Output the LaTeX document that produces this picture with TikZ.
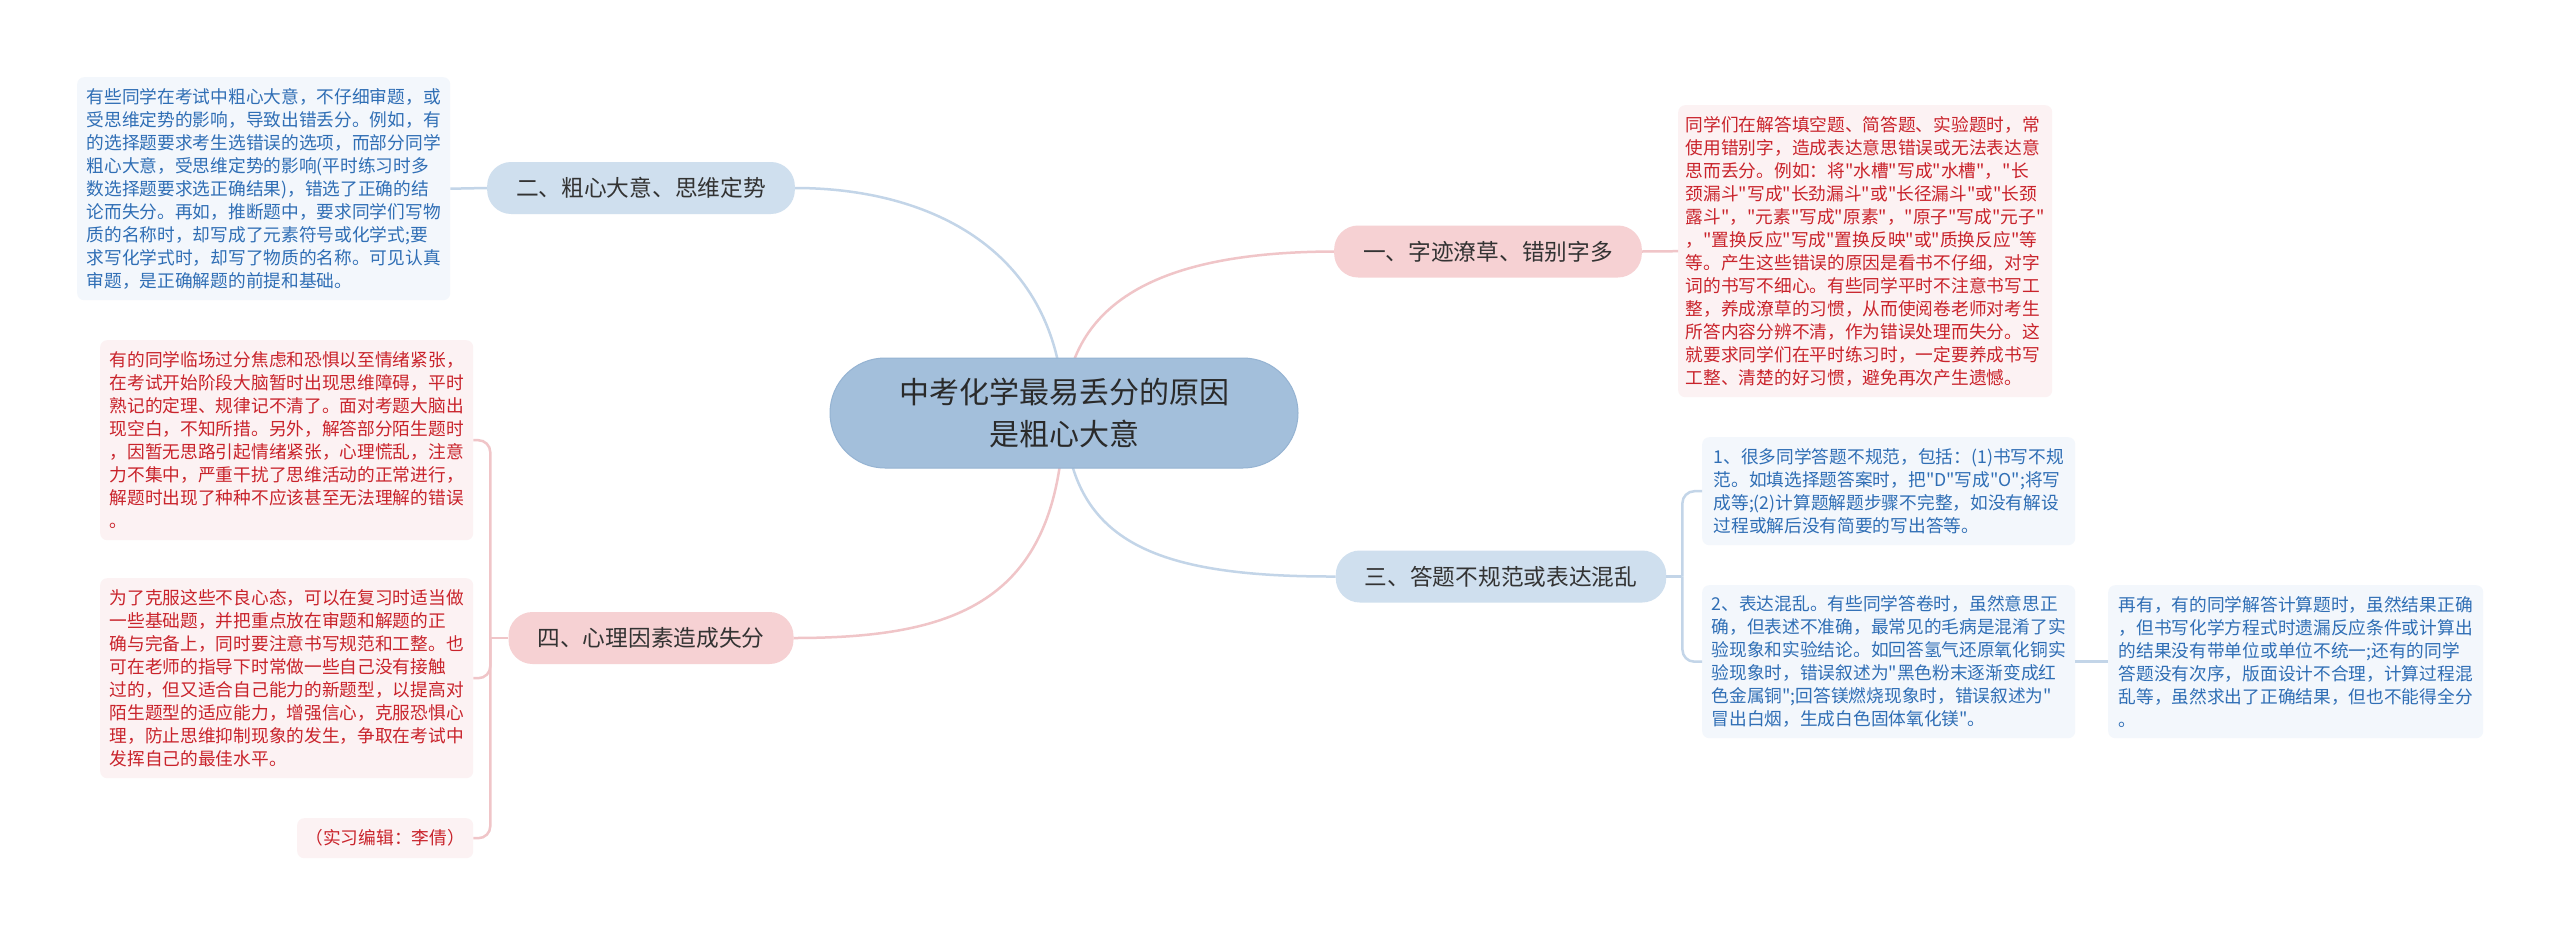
\documentclass[tikz,border=0pt]{standalone}
\usepackage{fontspec}
\newfontfamily\cjk{Noto Sans CJK SC}
\definecolor{mainfill}{RGB}{163,191,219}
\definecolor{maindraw}{RGB}{149,179,210}
\definecolor{bluefill}{RGB}{207,223,238}
\definecolor{redfill}{RGB}{246,209,211}
\definecolor{blueleaf}{RGB}{243,247,252}
\definecolor{redleaf}{RGB}{252,242,243}
\definecolor{blueline}{RGB}{195,213,232}
\definecolor{redline}{RGB}{240,197,200}
\definecolor{bluetext}{RGB}{47,110,181}
\definecolor{redtext}{RGB}{201,35,43}
\definecolor{darktext}{RGB}{51,51,51}
\tikzset{
  topic/.style={rounded corners=24,inner xsep=29,minimum height=52,text=darktext,font={\cjk\fontsize{22.7}{28}\selectfont}},
  leaf/.style={rounded corners=7,anchor=north west,align=left,inner sep=0,font={\cjk\fontsize{17.7}{23}\selectfont}},
  bline/.style={draw=blueline,line width=2.5},
  rline/.style={draw=redline,line width=2.5}
}

\begin{document}
\begin{tikzpicture}[x=1pt,y=1pt,yscale=-1,xscale=1]
%set diagram area 2560 x 935
\fill[white] (0,0) rectangle (2560,935);
\useasboundingbox (0,0) rectangle (2560,935);
\coordinate (c) at (1064,413);

% Topic Nodes
\node (n1) at (1488,251.5) [topic,fill=redfill] {一、字迹潦草、错别字多};
\node (n2) at (641,188) [topic,fill=bluefill] {二、粗心大意、思维定势};
\node (n3) at (1501,576.5) [topic,fill=bluefill] {三、答题不规范或表达混乱};
\node (n4) at (651,638) [topic,fill=redfill] {四、心理因素造成失分};

% Text Node
\node (l1) at (1678,105) [leaf,fill=redleaf,text=redtext,minimum width=374,minimum height=292] {同学们在解答填空题、简答题、实验题时，常\\使用错别字，造成表达意思错误或无法表达意\\思而丢分。例如：将"水槽"写成"水槽"，"长\\颈漏斗"写成"长劲漏斗"或"长径漏斗"或"长颈\\露斗"，"元素"写成"原素"，"原子"写成"元子"\\，"置换反应"写成"置换反映"或"质换反应"等\\等。产生这些错误的原因是看书不仔细，对字\\词的书写不细心。有些同学平时不注意书写工\\整，养成潦草的习惯，从而使阅卷老师对考生\\所答内容分辨不清，作为错误处理而失分。这\\就要求同学们在平时练习时，一定要养成书写\\工整、清楚的好习惯，避免再次产生遗憾。};
% Text Node
\node (l2) at (77,77) [leaf,fill=blueleaf,text=bluetext,minimum width=373,minimum height=223] {有些同学在考试中粗心大意，不仔细审题，或\\受思维定势的影响，导致出错丢分。例如，有\\的选择题要求考生选错误的选项，而部分同学\\粗心大意，受思维定势的影响(平时练习时多\\数选择题要求选正确结果)，错选了正确的结\\论而失分。再如，推断题中，要求同学们写物\\质的名称时，却写成了元素符号或化学式;要\\求写化学式时，却写了物质的名称。可见认真\\审题，是正确解题的前提和基础。};
% Text Node
\node (l31) at (1702,437) [leaf,fill=blueleaf,text=bluetext,minimum width=373,minimum height=108] {1、很多同学答题不规范，包括：(1)书写不规\\范。如填选择题答案时，把"D"写成"O";将写\\成等;(2)计算题解题步骤不完整，如没有解设\\过程或解后没有简要的写出答等。};
% Text Node
\node (l32) at (1702,585) [leaf,fill=blueleaf,text=bluetext,minimum width=373,minimum height=153] {2、表达混乱。有些同学答卷时，虽然意思正\\确，但表述不准确，最常见的毛病是混淆了实\\验现象和实验结论。如回答氢气还原氧化铜实\\验现象时，错误叙述为"黑色粉末逐渐变成红\\色金属铜";回答镁燃烧现象时，错误叙述为"\\冒出白烟，生成白色固体氧化镁"。};
% Text Node
\node (l33) at (2108,585) [leaf,fill=blueleaf,text=bluetext,minimum width=375,minimum height=153] {再有，有的同学解答计算题时，虽然结果正确\\，但书写化学方程式时遗漏反应条件或计算出\\的结果没有带单位或单位不统一;还有的同学\\答题没有次序，版面设计不合理，计算过程混\\乱等，虽然求出了正确结果，但也不能得全分\\。};
% Text Node
\node (l41) at (100,340) [leaf,fill=redleaf,text=redtext,minimum width=373,minimum height=200] {有的同学临场过分焦虑和恐惧以至情绪紧张，\\在考试开始阶段大脑暂时出现思维障碍，平时\\熟记的定理、规律记不清了。面对考题大脑出\\现空白，不知所措。另外，解答部分陌生题时\\，因暂无思路引起情绪紧张，心理慌乱，注意\\力不集中，严重干扰了思维活动的正常进行，\\解题时出现了种种不应该甚至无法理解的错误\\。};
% Text Node
\node (l42) at (100,578) [leaf,fill=redleaf,text=redtext,minimum width=373,minimum height=200] {为了克服这些不良心态，可以在复习时适当做\\一些基础题，并把重点放在审题和解题的正\\确与完备上，同时要注意书写规范和工整。也\\可在老师的指导下时常做一些自己没有接触\\过的，但又适合自己能力的新题型，以提高对\\陌生题型的适应能力，增强信心，克服恐惧心\\理，防止思维抑制现象的发生，争取在考试中\\发挥自己的最佳水平。};
% Text Node
\node (l43) at (297,818) [leaf,fill=redleaf,text=redtext,minimum width=176,minimum height=40] {（实习编辑：李倩）};

%Curve Lines
\draw [bline] (c) .. controls (1060,250) and (930,188) .. (n2.east);
\draw [rline] (c) .. controls (1068,290) and (1180,252) .. (n1.west);
\draw [bline] (c) .. controls (1070,540) and (1150,577) .. (n3.west);
\draw [rline] (c) .. controls (1060,600) and (960,638) .. (n4.east);

%Straight Lines
\draw [bline] (l2.east) -- (n2.west);
\draw [rline] (n1.east) -- (l1.west);
\coordinate (b3) at ([xshift=16]n3.east);
\draw [bline] (n3.east) -- (b3);
\draw [bline,rounded corners=12] (b3) |- (l31.west);
\draw [bline,rounded corners=12] (b3) |- (l32.west);
\draw [bline] (l32.east) -- (l33.west);
\coordinate (b4) at ([xshift=-18]n4.west);
\draw [rline] (n4.west) -- (b4);
\draw [rline,rounded corners=12] (b4) |- (l41.east);
\draw [rline,rounded corners=12] (b4) |- (l42.east);
\draw [rline,rounded corners=12] (b4) |- (l43.east);

% Main Node
\node (m) at (c) [rounded corners=55,minimum width=468,minimum height=110,fill=mainfill,draw=maindraw,line width=1,align=center,text={rgb,255:red,42;green,42;blue,42},font={\cjk\fontsize{30}{42}\selectfont}] {中考化学最易丢分的原因\\是粗心大意};

\end{tikzpicture}
\end{document}
